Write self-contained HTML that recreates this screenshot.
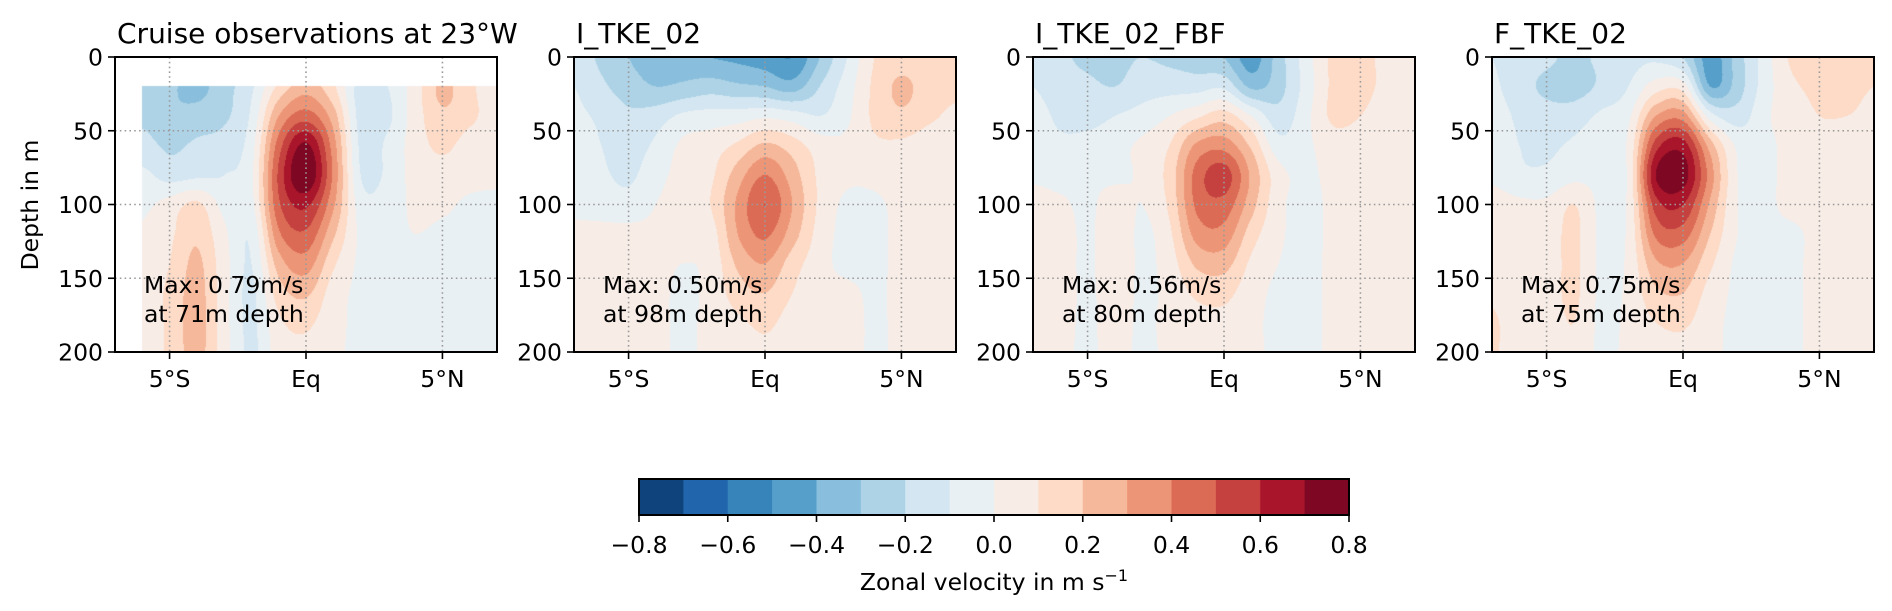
<!DOCTYPE html>
<html><head><meta charset="utf-8">
<style>
html,body{margin:0;padding:0;background:#fff;}
#wrap{position:relative;width:1892px;height:611px;overflow:hidden;font-family:"DejaVu Sans","Liberation Sans",sans-serif;}
canvas{position:absolute;}
svg{position:absolute;left:0;top:0;}
</style></head>
<body>
<div id="wrap">
<canvas id="c0" width="382" height="295" style="left:115px;top:57px"></canvas>
<canvas id="c1" width="382" height="295" style="left:574px;top:57px"></canvas>
<canvas id="c2" width="382" height="295" style="left:1033px;top:57px"></canvas>
<canvas id="c3" width="382" height="295" style="left:1492px;top:57px"></canvas>
<svg id="ov" width="1892" height="611"></svg>
</div>
<script>
const lats = [-7,-6,-5,-4,-3,-2,-1,0,1,2,3,4,5,6,7];
const depths = [0,20,40,60,80,100,120,140,160,180,200];
const levels = [-0.8,-0.7,-0.6,-0.5,-0.4,-0.3,-0.2,-0.1,0,0.1,0.2,0.3,0.4,0.5,0.6,0.7,0.8];
const levelColors = ["#0f437b","#2166ac","#3784bb","#559fca","#89bfdc","#aed3e6","#d3e6f1","#e9f0f4","#f8ece6","#fddbc7","#f6b89b","#ed9677","#db6b55","#c4413f","#a9152a","#7e0823"];
const cbTicks = ["\u22120.8","\u22120.6","\u22120.4","\u22120.2","0.0","0.2","0.4","0.6","0.8"];
const cbTickVals = [-0.8,-0.6,-0.4,-0.2,0,0.2,0.4,0.6,0.8];
const yTicks = [0,50,100,150,200];
const xTicks = [-5,0,5];
const xTickLabels = ["5\u00b0S","Eq","5\u00b0N"];
const titles = ["Cruise observations at 23\u00b0W","I_TKE_02","I_TKE_02_FBF","F_TKE_02"];
const maxVals = ["0.79","0.50","0.56","0.75"];
const maxDepths = ["71","98","80","75"];
const N=null;
const obsU = [
[N,N,N,N,N,N,N,N,N,N,N,N,N,N,N],
[N,-0.22,-0.28,-0.33,-0.24,-0.12,0.12,0.25,0.12,-0.14,-0.10,0.05,0.22,0.12,0.05],
[N,-0.22,-0.28,-0.26,-0.22,-0.08,0.30,0.45,0.25,-0.14,-0.12,0.05,0.18,0.12,0.06],
[N,-0.16,-0.22,-0.18,-0.15,-0.04,0.45,0.72,0.35,-0.12,-0.08,0.05,0.12,0.06,0.05],
[N,-0.08,-0.14,-0.12,-0.10,-0.02,0.52,0.80,0.38,-0.10,-0.08,0.04,0.06,0.04,0.03],
[N,-0.03,0.04,0.12,-0.03,-0.03,0.48,0.62,0.32,-0.05,-0.05,0.02,0.02,-0.02,-0.03],
[N,0.02,0.08,0.18,0.02,-0.08,0.38,0.48,0.22,-0.02,-0.03,0.00,-0.02,-0.03,-0.03],
[N,0.04,0.10,0.22,0.04,-0.10,0.25,0.35,0.12,-0.02,-0.03,-0.03,-0.03,-0.03,-0.03],
[N,0.05,0.12,0.24,0.04,-0.12,0.15,0.22,0.05,-0.02,-0.03,-0.03,-0.03,-0.03,-0.03],
[N,0.05,0.12,0.25,0.04,-0.12,0.08,0.12,0.03,-0.02,-0.03,-0.03,-0.03,-0.03,-0.03],
[N,0.05,0.12,0.24,0.04,-0.12,0.05,0.08,0.02,-0.02,-0.03,-0.03,-0.03,-0.03,-0.03]];
const itkeU = [
[-0.15,-0.22,-0.3,-0.35,-0.35,-0.4,-0.42,-0.45,-0.5,-0.3,-0.1,0.1,0.15,0.12,0.12],
[-0.1,-0.18,-0.25,-0.3,-0.28,-0.25,-0.28,-0.3,-0.35,-0.2,-0.05,0.12,0.22,0.15,0.12],
[-0.08,-0.12,-0.18,-0.15,-0.08,-0.06,-0.05,-0.02,-0.05,-0.1,-0.02,0.12,0.18,0.12,0.08],
[-0.05,-0.1,-0.15,-0.08,0.02,0.05,0.12,0.22,0.15,0.05,0.02,0.08,0.08,0.05,0.05],
[-0.03,-0.08,-0.12,-0.03,0.03,0.08,0.25,0.40,0.25,0.08,0.02,0.03,0.05,0.05,0.04],
[-0.02,-0.04,-0.06,0.0,0.03,0.1,0.32,0.50,0.3,0.08,-0.02,-0.02,0.03,0.04,0.04],
[0.02,0.03,0.03,0.02,0.03,0.05,0.3,0.42,0.25,0.06,-0.03,-0.03,0.03,0.04,0.04],
[0.03,0.08,0.05,0.03,0.0,0.03,0.22,0.30,0.15,0.04,-0.03,-0.03,0.03,0.03,0.03],
[0.03,0.08,0.05,0.03,-0.02,0.03,0.15,0.2,0.1,0.03,0.03,-0.02,0.03,0.03,0.03],
[0.03,0.07,0.05,0.03,-0.02,0.03,0.08,0.12,0.06,0.03,0.05,-0.02,0.03,0.03,0.03],
[0.03,0.06,0.05,0.03,-0.02,0.03,0.05,0.08,0.05,0.03,0.05,-0.02,0.03,0.03,0.03]];
const fbfU = [
[-0.12,-0.18,-0.22,-0.22,-0.2,-0.22,-0.25,-0.3,-0.45,-0.25,-0.05,0.12,0.12,0.08,0.06],
[-0.1,-0.15,-0.18,-0.2,-0.15,-0.14,-0.14,-0.12,-0.32,-0.24,-0.06,0.12,0.12,0.08,0.05],
[-0.06,-0.12,-0.14,-0.1,-0.06,0.0,0.08,0.15,0.0,-0.16,-0.03,0.12,0.1,0.06,0.05],
[-0.04,-0.08,-0.06,-0.03,0.02,0.10,0.32,0.36,0.18,-0.06,-0.02,0.05,0.05,0.05,0.04],
[-0.02,-0.04,-0.02,-0.02,0.02,0.14,0.44,0.55,0.28,0.04,-0.02,0.03,0.03,0.03,0.03],
[0.05,0.02,-0.02,0.05,0.0,0.12,0.42,0.46,0.24,0.03,-0.03,0.02,0.02,0.02,0.02],
[0.05,0.05,-0.02,0.08,-0.02,0.08,0.34,0.36,0.15,0.02,-0.03,0.02,0.02,0.02,0.02],
[0.05,0.05,-0.02,0.08,-0.02,0.05,0.22,0.24,0.08,0.0,-0.03,0.02,0.02,0.02,0.02],
[0.05,0.05,-0.02,0.06,-0.02,0.03,0.12,0.13,0.04,-0.02,-0.03,0.02,0.02,0.02,0.02],
[0.05,0.04,-0.02,0.05,-0.02,0.03,0.06,0.07,0.02,-0.02,-0.03,0.02,0.02,0.02,0.02],
[0.05,0.03,-0.02,0.04,-0.02,0.02,0.03,0.04,0.02,-0.02,-0.03,0.02,0.02,0.02,0.02]];
const ftkeU = [
[-0.1,-0.15,-0.18,-0.22,-0.18,-0.14,-0.12,-0.2,-0.45,-0.25,-0.05,0.12,0.15,0.15,0.12],
[-0.08,-0.16,-0.22,-0.24,-0.18,-0.1,0.05,0.05,-0.4,-0.25,-0.05,0.08,0.12,0.12,0.1],
[-0.05,-0.12,-0.16,-0.15,-0.08,-0.02,0.3,0.35,-0.05,-0.15,-0.02,0.05,0.1,0.1,0.08],
[-0.03,-0.1,-0.12,-0.08,-0.02,0.02,0.55,0.65,0.25,-0.02,-0.02,0.03,0.05,0.05,0.05],
[-0.02,-0.08,-0.08,-0.03,-0.02,0.02,0.70,0.75,0.35,0.0,-0.02,0.03,0.03,0.03,0.03],
[0.05,0.02,0.02,0.1,-0.02,0.02,0.55,0.6,0.28,0.0,-0.02,0.03,0.03,0.03,0.03],
[0.08,0.03,0.05,0.12,-0.02,0.02,0.42,0.45,0.2,0.0,-0.02,-0.02,0.03,0.03,0.03],
[0.08,0.03,0.05,0.12,-0.02,0.02,0.28,0.3,0.12,-0.02,-0.03,-0.02,0.03,0.03,0.03],
[0.08,0.03,0.05,0.12,-0.02,0.02,0.18,0.2,0.06,-0.02,-0.03,-0.02,0.03,0.03,0.03],
[0.12,0.03,0.05,0.1,-0.02,0.02,0.1,0.12,0.03,-0.02,-0.03,-0.02,0.03,0.03,0.03],
[0.12,0.03,0.05,0.08,-0.02,0.02,0.05,0.06,0.02,-0.02,-0.03,-0.02,0.03,0.03,0.03]];
const fields=[obsU,itkeU,fbfU,ftkeU];

const PW=382,PH=295,PTOP=57,LEFTS=[115,574,1033,1492];
const LATMIN=-7,LATMAX=7,DMAX=200;
function xScale(lat){return (lat-LATMIN)/(LATMAX-LATMIN)*PW;}
function yScale(d){return d/DMAX*PH;}
function hexRgb(h){return [parseInt(h.substr(1,2),16),parseInt(h.substr(3,2),16),parseInt(h.substr(5,2),16)];}
const rgbs=levelColors.map(hexRgb);
function colorIdx(v){
  for(let i=0;i<levelColors.length;i++){ if(v<levels[i+1]) return i; }
  return levelColors.length-1;
}
function filled(g){
  const R=g.length,C=g[0].length,out=g.map(r=>r.slice());
  for(let pass=0;pass<30;pass++){
    let any=false;
    for(let r=0;r<R;r++)for(let c=0;c<C;c++){
      if(out[r][c]===null){
        const nb=[[r-1,c],[r+1,c],[r,c-1],[r,c+1]].filter(([a,b])=>a>=0&&a<R&&b>=0&&b<C&&out[a][b]!==null);
        if(nb.length){out[r][c]=nb.reduce((s,[a,b])=>s+out[a][b],0)/nb.length;} else any=true;
      }
    }
    if(!any)break;
  }
  return out;
}
function cr(p0,p1,p2,p3,t){return 0.5*((2*p1)+(-p0+p2)*t+(2*p0-5*p1+4*p2-p3)*t*t+(-p0+3*p1-3*p2+p3)*t*t*t);}
function sample(g,lat,d){
  const R=g.length,C=g[0].length;
  const fx=(lat-lats[0])/(lats[1]-lats[0]), fy=(d-depths[0])/(depths[1]-depths[0]);
  let i=Math.min(Math.floor(fx),C-2), j=Math.min(Math.floor(fy),R-2);
  const tx=fx-i, ty=fy-j;
  const col=[];
  for(let k=-1;k<=2;k++){
    const rr=g[Math.max(0,Math.min(R-1,j+k))];
    col.push(cr(rr[Math.max(0,i-1)],rr[i],rr[i+1],rr[Math.min(C-1,i+2)],tx));
  }
  return cr(col[0],col[1],col[2],col[3],ty);
}
function valid(g,lat,d){
  const fx=(lat-lats[0])/(lats[1]-lats[0]), fy=(d-depths[0])/(depths[1]-depths[0]);
  const C=g[0].length,R=g.length;
  const i=Math.min(Math.floor(fx),C-2), j=Math.min(Math.floor(fy),R-2);
  return g[j][i]!==null&&g[j][i+1]!==null&&g[j+1][i]!==null&&g[j+1][i+1]!==null;
}
fields.forEach((g,p)=>{
  const cv=document.getElementById('c'+p),ctx=cv.getContext('2d');
  const img=ctx.createImageData(PW,PH),fg=filled(g);
  for(let y=0;y<PH;y++){
    const d=(y+0.5)/PH*DMAX;
    for(let x=0;x<PW;x++){
      const lat=LATMIN+(x+0.5)/PW*(LATMAX-LATMIN);
      const o=(y*PW+x)*4;
      if(!valid(g,lat,d)){img.data[o]=255;img.data[o+1]=255;img.data[o+2]=255;img.data[o+3]=255;continue;}
      const c=rgbs[colorIdx(sample(fg,lat,d))];
      img.data[o]=c[0];img.data[o+1]=c[1];img.data[o+2]=c[2];img.data[o+3]=255;
    }
  }
  ctx.putImageData(img,0,0);
});

const NS="http://www.w3.org/2000/svg",ov=document.getElementById('ov');
function mk(tag,attrs,parent){const e=document.createElementNS(NS,tag);for(const k in attrs)e.setAttribute(k,attrs[k]);(parent||ov).appendChild(e);return e;}
LEFTS.forEach((L,p)=>{
  const g=mk('g',{});
  
  
  xTicks.forEach(v=>{const x=L+xScale(v);const l=mk('line',{x1:x,x2:x,y1:PTOP,y2:PTOP+PH,stroke:'#9a9a9a','stroke-width':1.6,'stroke-dasharray':'1.6,3.2'},g);
    });
  yTicks.slice(1,-1).forEach(v=>{const y=PTOP+yScale(v);const l=mk('line',{x1:L,x2:L+PW,y1:y,y2:y,stroke:'#9a9a9a','stroke-width':1.6,'stroke-dasharray':'1.6,3.2'},g);
    });
  const fr=mk('rect',{x:L,y:PTOP,width:PW,height:PH,fill:'none',stroke:'#000','stroke-width':2},g);
  
  yTicks.forEach(v=>{const y=PTOP+yScale(v);
    mk('line',{x1:L-7,x2:L,y1:y,y2:y,stroke:'#000','stroke-width':1.6},g);
    const t=mk('text',{x:L-12,y:y+8.5,'text-anchor':'end','font-size':23.5,fill:'#000'},g);t.textContent=v;
    });
  xTicks.forEach((v,i)=>{const x=L+xScale(v);
    mk('line',{x1:x,x2:x,y1:PTOP+PH,y2:PTOP+PH+7,stroke:'#000','stroke-width':1.6},g);
    const t=mk('text',{x:x,y:387,'text-anchor':'middle','font-size':23.5,fill:'#000'},g);t.textContent=xTickLabels[i];
    });
  const tt=mk('text',{x:L+2,y:43,'font-size':28,fill:'#000'},g);tt.textContent=titles[p];
  
  const a1=mk('text',{x:L+29,y:293,'font-size':23.5,fill:'#000'},g);a1.textContent='Max: '+maxVals[p]+'m/s';
  
  const a2=mk('text',{x:L+29,y:322,'font-size':23.5,fill:'#000'},g);a2.textContent='at '+maxDepths[p]+'m depth';
  
});
const yl=mk('text',{x:0,y:0,'font-size':23.5,'text-anchor':'middle',transform:'translate(38,205) rotate(-90)',fill:'#000'});
yl.textContent='Depth in m';

const CBL=639,CBR=1349,CBT=479,CBB=515;
function cbX(v){return CBL+(v-levels[0])/(levels[levels.length-1]-levels[0])*(CBR-CBL);}
const cb=mk('g',{});

levelColors.forEach((c,i)=>{const r=mk('rect',{x:cbX(levels[i]),y:CBT,width:cbX(levels[i+1])-cbX(levels[i])+0.5,height:CBB-CBT,fill:c},cb);
  });
mk('rect',{x:CBL,y:CBT,width:CBR-CBL,height:CBB-CBT,fill:'none',stroke:'#000','stroke-width':2},cb);
cbTickVals.forEach((v,i)=>{const x=cbX(v);
  mk('line',{x1:x,x2:x,y1:CBB,y2:CBB+7,stroke:'#000','stroke-width':1.6},cb);
  const t=mk('text',{x:x,y:553,'text-anchor':'middle','font-size':23.5,fill:'#000'},cb);t.textContent=cbTicks[i];
  });
const cl=mk('text',{x:994,y:590,'text-anchor':'middle','font-size':23.5,fill:'#000'});
cl.innerHTML='Zonal velocity in m s<tspan dy="-9" font-size="16">\u22121</tspan>';

</script>
</body></html>
